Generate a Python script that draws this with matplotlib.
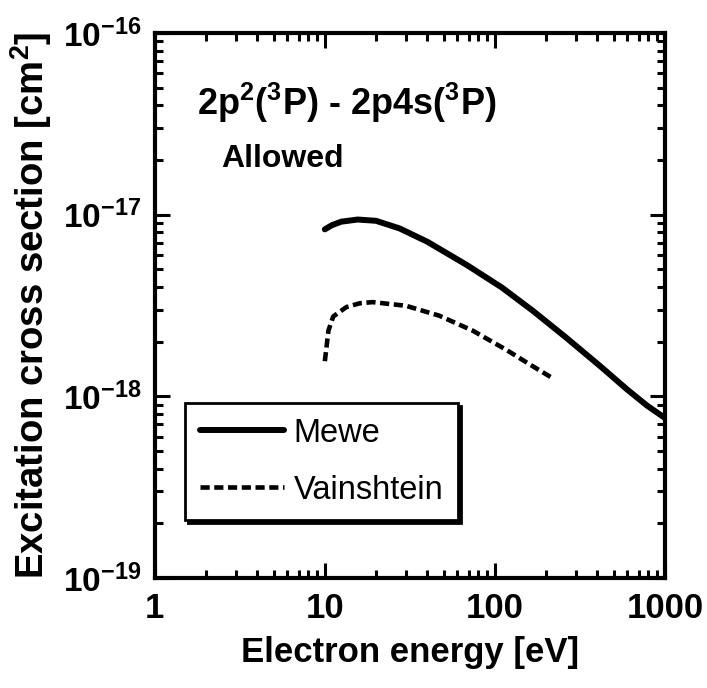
import numpy as np
import matplotlib.pyplot as plt
from matplotlib.ticker import NullFormatter

plt.rcParams['font.family'] = 'Liberation Sans'
plt.rcParams['mathtext.fontset'] = 'custom'
plt.rcParams['mathtext.rm'] = 'Liberation Sans:bold'
plt.rcParams['mathtext.it'] = 'Liberation Sans:bold'
plt.rcParams['mathtext.bf'] = 'Liberation Sans:bold'
plt.rcParams['axes.unicode_minus'] = False

# values
energyMewe = [10, 11, 12.5, 15.6, 20, 27.5, 40, 68, 110, 167, 260, 415, 600, 784, 1000]
sigmaMewe = [8.3e-18, 8.75e-18, 9.15e-18, 9.4e-18, 9.25e-18, 8.4e-18, 7.1e-18,
             5.3e-18, 3.97e-18, 2.96e-18, 2.12e-18, 1.47e-18, 1.09e-18, 8.9e-19,
             7.6e-19]
energyVain = [10, 10.5, 11.2, 13.4, 16, 19.1, 30, 47, 74, 117, 160, 215]
sigmaVain = [1.56e-18, 2.3e-18, 2.75e-18, 3.1e-18, 3.25e-18, 3.3e-18, 3.15e-18,
             2.78e-18, 2.3e-18, 1.8e-18, 1.5e-18, 1.27e-18]
xTicks = [1, 10, 100, 1000]
xTickLabels = ['1', '10', '100', '1000']
yTicks = [1e-19, 1e-18, 1e-17, 1e-16]
yTickLabels = [r'$\mathrm{10^{-19}}$', r'$\mathrm{10^{-18}}$',
               r'$\mathrm{10^{-17}}$', r'$\mathrm{10^{-16}}$']

fig = plt.figure(figsize=(7.07, 6.88), dpi=100)
ax = fig.add_axes([0.219, 0.160, 0.7214, 0.792])

ax.plot(energyMewe, sigmaMewe, color='black', lw=4.3, solid_capstyle='round',
        solid_joinstyle='round', label='Mewe')
ax.plot(energyVain, sigmaVain, color='black', lw=3.3, linestyle=(0, (2.0, 1.0)),
        label='Vainshtein')

ax.set_xscale('log')
ax.set_yscale('log')
ax.set_xlim(1, 1000)
ax.set_ylim(1e-19, 1e-16)
ax.set_xticks(xTicks)
ax.set_xticklabels(xTickLabels)
ax.set_yticks(yTicks)
ax.set_yticklabels(yTickLabels)
ax.xaxis.set_minor_formatter(NullFormatter())
ax.yaxis.set_minor_formatter(NullFormatter())

for side in ax.spines.values():
    side.set_linewidth(3)
ax.tick_params(which='both', direction='in', top=True, right=True, width=2.2)
ax.tick_params(which='major', length=11, labelsize=25, pad=10)
ax.tick_params(axis='y', which='major', labelsize=24)
ax.tick_params(which='minor', length=6)
for lab in ax.get_xticklabels():
    lab.set_fontweight('bold')

ax.set_xlabel('Electron energy [eV]', fontsize=25, fontweight='bold', labelpad=8)
ax.set_ylabel(r'Excitation cross section [cm$^2$]', fontsize=27.5,
              fontweight='bold', labelpad=6)

ax.text(0.082, 0.85, r'2p$^2$($^3$P) - 2p4s($^3$P)', transform=ax.transAxes,
        fontsize=26, fontweight='bold')
ax.text(0.131, 0.754, 'Allowed', transform=ax.transAxes, fontsize=23,
        fontweight='bold')

leg = ax.legend(loc='upper left', bbox_to_anchor=(0.059, 0.321), borderaxespad=0,
                fontsize=23.5, handlelength=2.6, handletextpad=0.28,
                labelspacing=0.8, borderpad=0.45,
                fancybox=False, edgecolor='black', framealpha=1,
                shadow={'color': 'black', 'alpha': 1})
leg.get_frame().set_linewidth(2)

fig.savefig('out.png', dpi=100)
